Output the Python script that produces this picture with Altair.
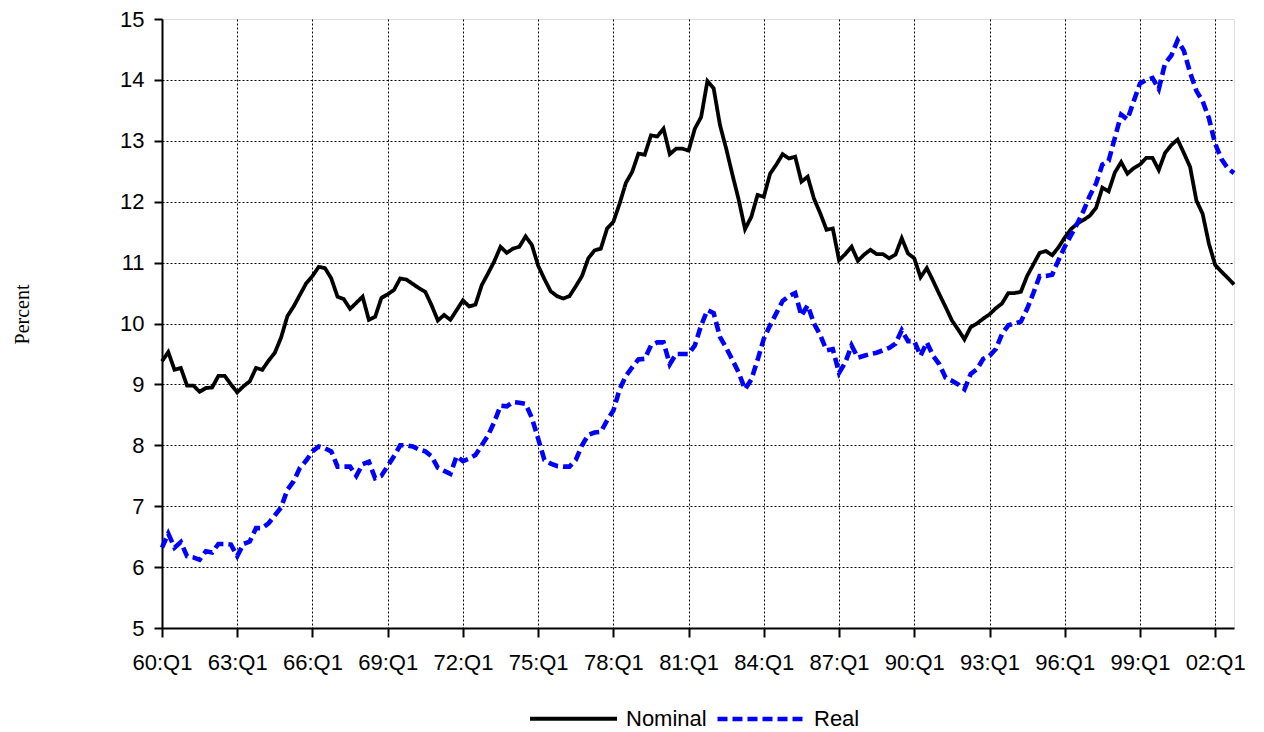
import altair as alt
import pandas as pd

# Quarterly categories 1960:Q1 .. 2002:Q4
years = list(range(1960, 2003))
quarters = [f"{y % 100:02d}:Q{q}" for y in years for q in range(1, 5)]

tick_labels = ["60:Q1", "63:Q1", "66:Q1", "69:Q1", "72:Q1", "75:Q1", "78:Q1",
               "81:Q1", "84:Q1", "87:Q1", "90:Q1", "93:Q1", "96:Q1", "99:Q1", "02:Q1"]
y_ticks = [5, 6, 7, 8, 9, 10, 11, 12, 13, 14, 15]

series_names = ["Nominal", "Real"]

nominal = [
    9.38, 9.53, 9.24, 9.27, 8.98, 8.98, 8.88, 8.94, 8.95, 9.14, 9.14, 9.00,
    8.87, 8.97, 9.05, 9.27, 9.24, 9.39, 9.52, 9.77, 10.12, 10.28, 10.47, 10.66,
    10.78, 10.93, 10.91, 10.74, 10.44, 10.40, 10.24, 10.34, 10.44, 10.06, 10.11, 10.42,
    10.48, 10.55, 10.74, 10.72, 10.65, 10.58, 10.52, 10.30, 10.05, 10.14, 10.06, 10.22,
    10.38, 10.28, 10.31, 10.63, 10.82, 11.02, 11.26, 11.16, 11.23, 11.26, 11.43, 11.29,
    10.95, 10.73, 10.53, 10.45, 10.41, 10.45, 10.61, 10.78, 11.07, 11.20, 11.23, 11.56,
    11.67, 11.97, 12.31, 12.49, 12.79, 12.77, 13.09, 13.07, 13.20, 12.78, 12.87, 12.87,
    12.84, 13.20, 13.39, 13.98, 13.86, 13.26, 12.87, 12.44, 12.03, 11.55, 11.75, 12.11,
    12.08, 12.46, 12.61, 12.78, 12.71, 12.74, 12.33, 12.41, 12.05, 11.81, 11.54, 11.56,
    11.04, 11.14, 11.26, 11.03, 11.13, 11.21, 11.14, 11.14, 11.07, 11.13, 11.40, 11.15,
    11.07, 10.76, 10.91, 10.70, 10.48, 10.27, 10.05, 9.90, 9.74, 9.94, 10.00, 10.08,
    10.15, 10.25, 10.33, 10.50, 10.50, 10.52, 10.78, 10.97, 11.16, 11.19, 11.12, 11.25,
    11.41, 11.55, 11.64, 11.70, 11.77, 11.90, 12.23, 12.17, 12.48, 12.65, 12.46, 12.55,
    12.61, 12.72, 12.72, 12.52, 12.80, 12.93, 13.02, 12.80, 12.57, 12.02, 11.80, 11.31,
    10.96, 10.85, 10.75, 10.64,
]

real = [
    6.32, 6.55, 6.32, 6.41, 6.18, 6.16, 6.12, 6.26, 6.24, 6.38, 6.38, 6.37,
    6.18, 6.38, 6.42, 6.64, 6.64, 6.72, 6.85, 6.98, 7.27, 7.41, 7.63, 7.75,
    7.90, 7.98, 7.95, 7.90, 7.65, 7.65, 7.65, 7.50, 7.69, 7.73, 7.46, 7.50,
    7.66, 7.82, 8.00, 8.00, 7.98, 7.93, 7.90, 7.82, 7.63, 7.58, 7.53, 7.82,
    7.74, 7.78, 7.84, 8.00, 8.16, 8.38, 8.65, 8.64, 8.71, 8.70, 8.68, 8.45,
    8.11, 7.76, 7.70, 7.66, 7.65, 7.65, 7.76, 8.00, 8.17, 8.21, 8.22, 8.41,
    8.57, 8.92, 9.14, 9.28, 9.41, 9.42, 9.64, 9.69, 9.69, 9.33, 9.50, 9.50,
    9.50, 9.64, 9.97, 10.22, 10.17, 9.78, 9.60, 9.40, 9.19, 8.92, 9.08, 9.40,
    9.75, 9.97, 10.17, 10.37, 10.45, 10.50, 10.13, 10.30, 10.00, 9.81, 9.56, 9.58,
    9.19, 9.36, 9.64, 9.44, 9.47, 9.50, 9.52, 9.56, 9.60, 9.67, 9.89, 9.71,
    9.71, 9.47, 9.69, 9.47, 9.33, 9.11, 9.06, 9.00, 8.92, 9.17, 9.25, 9.42,
    9.47, 9.58, 9.83, 9.97, 10.00, 10.03, 10.24, 10.50, 10.78, 10.78, 10.80, 11.04,
    11.26, 11.45, 11.64, 11.85, 12.10, 12.30, 12.61, 12.67, 13.05, 13.43, 13.35, 13.65,
    13.94, 14.00, 14.03, 13.85, 14.27, 14.40, 14.65, 14.48, 14.12, 13.82, 13.65, 13.37,
    12.95, 12.70, 12.55, 12.47,
]

df = pd.DataFrame({
    "quarter": quarters + quarters,
    "value": nominal + real,
    "series": [series_names[0]] * len(nominal) + [series_names[1]] * len(real),
})

FONT = "Liberation Sans"

legend = alt.Legend(
    title=None,
    orient="none",
    legendX=366,
    legendY=654,
    direction="horizontal",
    symbolType="stroke",
    symbolSize=7569,
    symbolStrokeWidth=3.5,
    labelFont=FONT,
    labelFontSize=22,
    labelColor="black",
    labelOffset=7,
    columnPadding=1,
)

chart = alt.Chart(df).mark_line().encode(
    x=alt.X(
        "quarter:O",
        sort=quarters,
        scale=alt.Scale(type="point", padding=0),
        axis=alt.Axis(
            values=tick_labels,
            title=None,
            labelAngle=0,
            labelFlush=False,
            labelOverlap=False,
            labelFont=FONT,
            labelFontSize=22,
            labelColor="black",
            labelPadding=15,
            tickSize=9,
            tickWidth=2,
            tickColor="black",
            domainColor="black",
            domainWidth=2,
            grid=True,
            gridColor="black",
            gridDash=[2, 2],
            gridWidth=1,
        ),
    ),
    y=alt.Y(
        "value:Q",
        scale=alt.Scale(domain=[5, 15], nice=False, zero=False),
        axis=alt.Axis(
            values=y_ticks,
            title="Percent",
            titleFont="Liberation Serif",
            titleFontSize=20,
            titleFontWeight="normal",
            titleColor="black",
            titleX=-140,
            titleY=295,
            titleBaseline="middle",
            titleAngle=270,
            labelFont=FONT,
            labelFontSize=22,
            labelColor="black",
            labelPadding=10,
            tickSize=8,
            tickWidth=2,
            tickColor="black",
            domainColor="black",
            domainWidth=2,
            grid=True,
            gridColor="black",
            gridDash=[2, 2],
            gridWidth=1,
            gridOpacity=alt.condition("datum.value == 15 || datum.value == 5", alt.value(0), alt.value(1)),
        ),
    ),
    color=alt.Color(
        "series:N",
        scale=alt.Scale(domain=series_names, range=["#000000", "#0000ff"]),
        legend=legend,
    ),
    strokeDash=alt.StrokeDash(
        "series:N",
        scale=alt.Scale(domain=series_names, range=[[1, 0], [10, 5]]),
        legend=legend,
    ),
    strokeWidth=alt.StrokeWidth(
        "series:N",
        scale=alt.Scale(domain=series_names, range=[3.8, 4.6]),
        legend=None,
    ),
).properties(
    width=1072,
    height=609,
    autosize=alt.AutoSizeParams(type="none"),
    padding={"left": 154, "top": 11, "right": 20, "bottom": 104},
).configure_view(
    stroke="#808080",
    strokeWidth=2,
).configure(background="white")

chart.save("out.html", embed_options={"renderer": "svg", "actions": False})
